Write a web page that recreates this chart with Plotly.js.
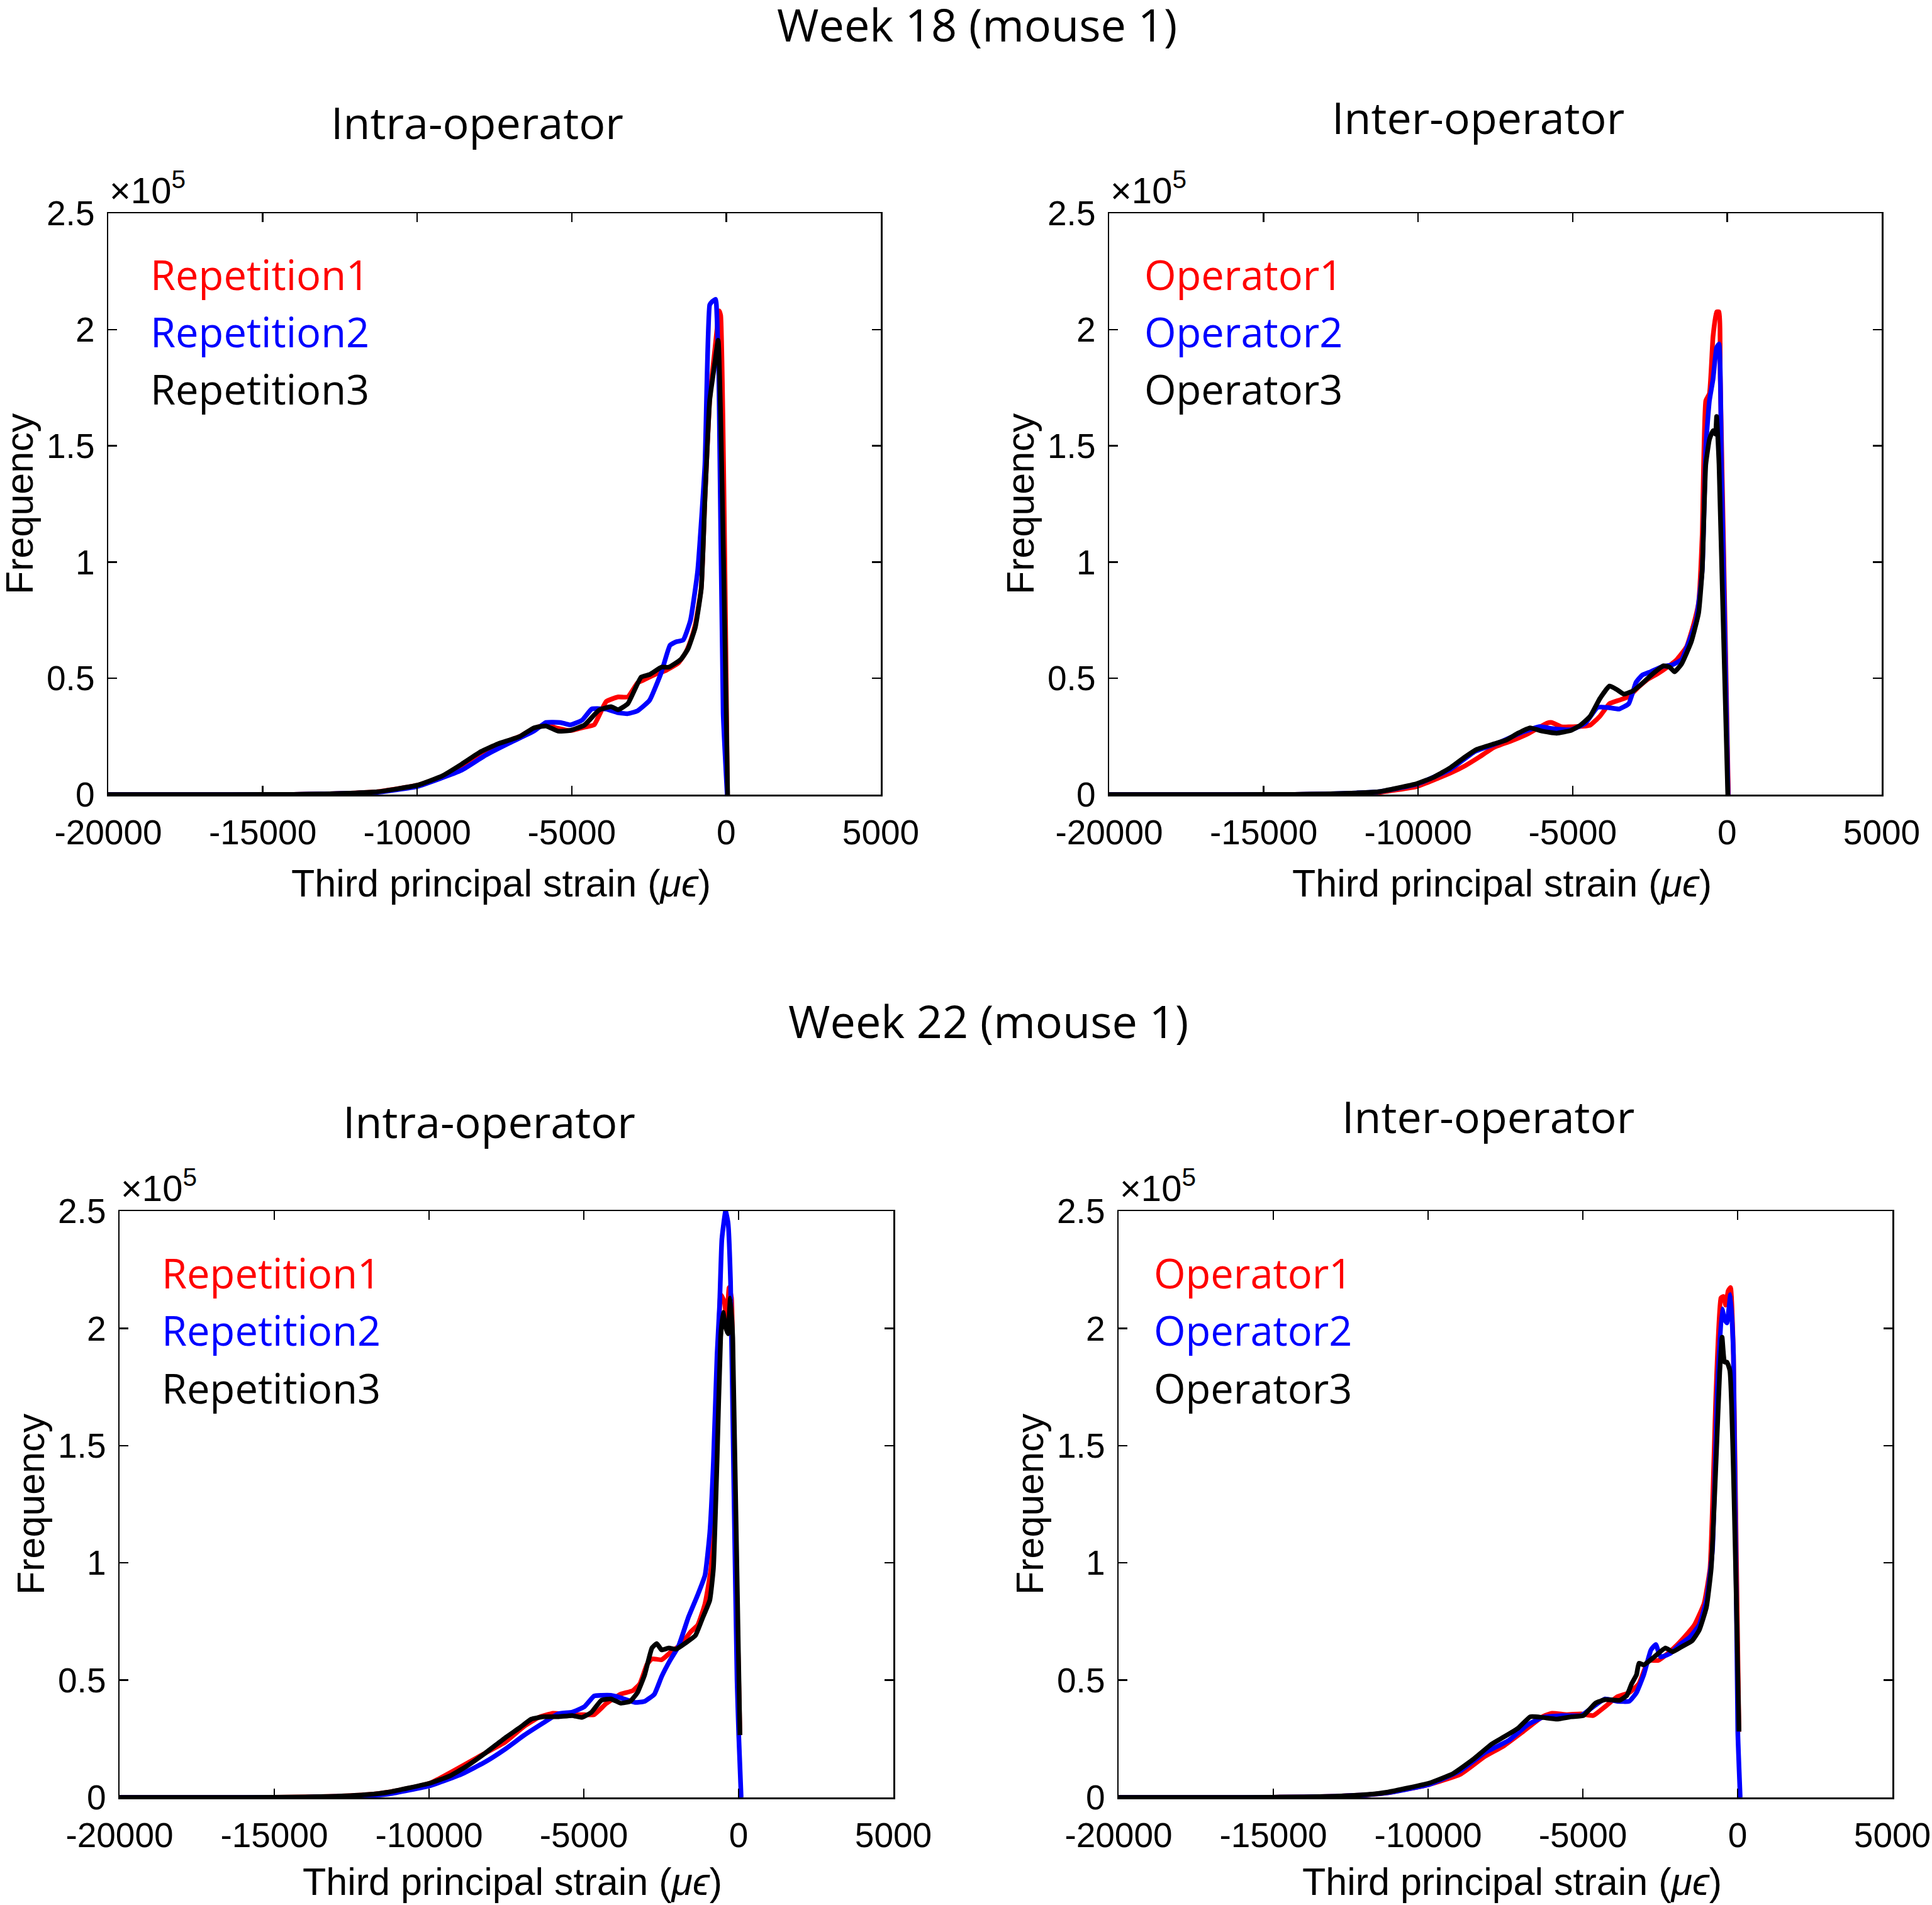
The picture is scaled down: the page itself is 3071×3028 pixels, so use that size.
<!DOCTYPE html>
<html>
<head>
<meta charset="utf-8">
<script src="https://cdn.plot.ly/plotly-3.0.1.min.js"></script>
<style>html,body{margin:0;padding:0;background:#fff;}#chart{width:3071px;height:3028px;}</style>
</head>
<body>
<div id="chart"></div>
<script>
// ---------- DATA (strain in micro-strain, frequency in units of 1e5) ----------
var xTickVals = [-20000, -15000, -10000, -5000, 0, 5000];
var xTickText = ["-20000", "-15000", "-10000", "-5000", "0", "5000"];
var yTickVals = [0, 0.5, 1, 1.5, 2, 2.5];
var yTickText = ["0", "0.5", "1", "1.5", "2", "2.5"];

var panelTitles = ["Intra-operator", "Inter-operator", "Intra-operator", "Inter-operator"];
var weekTitles = ["Week 18 (mouse 1)", "Week 22 (mouse 1)"];
var intraNames = ["Repetition1", "Repetition2", "Repetition3"];
var interNames = ["Operator1", "Operator2", "Operator3"];

// Week 18 intra-operator
var w18IntraRep1X = [-20000,-16000,-14000,-13000,-12000,-11287,-10000,-9183,-8560,-7937,-7392,-6690,-6223,-5833,-5444,-5054,-4587,-4275,-3885,-3496,-3185,-2873,-2717,-2249,-1938,-1549,-1315,-1159,-1003,-808,-691,-536,-380,-224,-180,40];
var w18IntraRep1Y = [0,0,0.001,0.003,0.007,0.012,0.04,0.078,0.125,0.18,0.215,0.25,0.285,0.30,0.285,0.275,0.29,0.30,0.40,0.42,0.42,0.48,0.49,0.52,0.535,0.566,0.61,0.66,0.73,0.89,1.27,1.70,1.90,2.08,2.06,0];
var w18IntraRep2X = [-20000,-16000,-14000,-13000,-12000,-11287,-10000,-8560,-7781,-7002,-6223,-5833,-5366,-5054,-4665,-4353,-3885,-3496,-3185,-2873,-2483,-2094,-1821,-1627,-1393,-1159,-925,-691,-536,-458,-341,-300,-240,-100,30];
var w18IntraRep2Y = [0,0,0.001,0.003,0.006,0.01,0.035,0.105,0.17,0.223,0.273,0.31,0.31,0.30,0.32,0.368,0.368,0.352,0.348,0.36,0.405,0.528,0.642,0.657,0.665,0.749,0.963,1.42,2.106,2.12,2.13,2.05,1.8,0.35,0];
var w18IntraRep3X = [-20000,-16000,-14000,-13000,-12000,-11287,-10000,-9183,-8560,-7937,-7392,-6690,-6223,-5833,-5444,-5054,-4587,-4120,-3730,-3496,-3185,-2756,-2483,-2094,-1860,-1471,-1237,-1003,-808,-691,-536,-380,-263,45];
var w18IntraRep3Y = [0,0,0.001,0.003,0.007,0.012,0.04,0.081,0.131,0.185,0.218,0.249,0.287,0.295,0.273,0.276,0.299,0.363,0.378,0.365,0.391,0.505,0.516,0.548,0.548,0.581,0.627,0.718,0.886,1.267,1.694,1.847,1.954,0];

// Week 18 inter-operator
var w18InterOp1X = [-20000,-16000,-14000,-13000,-12000,-11287,-10040,-8950,-8482,-8015,-7547,-7002,-6457,-5833,-5677,-5366,-4898,-4431,-4119,-3808,-3496,-3185,-2873,-2561,-2249,-1938,-1627,-1315,-1081,-925,-808,-691,-574,-458,-341,-263,-224,40];
var w18InterOp1Y = [0,0,0.001,0.002,0.005,0.009,0.035,0.093,0.124,0.162,0.203,0.23,0.261,0.307,0.31,0.292,0.292,0.299,0.337,0.391,0.406,0.421,0.462,0.497,0.52,0.548,0.581,0.635,0.734,0.825,1.115,1.694,1.725,1.969,2.076,2.076,1.80,0];
var w18InterOp2X = [-20000,-16000,-14000,-13000,-12000,-11287,-10040,-8950,-8171,-7392,-6612,-6067,-5677,-5054,-4587,-4197,-3885,-3496,-3185,-2951,-2756,-2483,-2094,-1782,-1471,-1237,-1003,-808,-691,-574,-458,-341,-263,-185,30];
var w18InterOp2Y = [0,0,0.001,0.003,0.007,0.012,0.045,0.109,0.185,0.223,0.269,0.292,0.284,0.279,0.307,0.375,0.375,0.368,0.391,0.482,0.513,0.528,0.551,0.558,0.581,0.658,0.749,0.963,1.496,1.694,1.786,1.923,1.938,1.42,0];
var w18InterOp3X = [-20000,-16000,-14000,-13000,-12000,-11287,-10040,-9495,-8950,-8482,-8093,-7547,-7158,-6768,-6379,-5989,-5522,-5054,-4743,-4431,-4119,-3808,-3574,-3340,-3029,-2717,-2405,-2055,-1860,-1704,-1471,-1159,-925,-808,-691,-574,-458,-380,-341,-263,20];
var w18InterOp3Y = [0,0,0.001,0.003,0.007,0.012,0.047,0.075,0.116,0.162,0.195,0.218,0.234,0.264,0.287,0.273,0.264,0.276,0.299,0.337,0.413,0.467,0.452,0.432,0.447,0.482,0.52,0.554,0.548,0.528,0.563,0.658,0.78,0.963,1.42,1.527,1.565,1.55,1.626,1.42,0];

// Week 22 intra-operator
var w22IntraRep1X = [-20000,-16000,-14000,-13000,-12000,-11290,-9966,-8174,-7551,-6928,-6460,-5993,-5525,-5058,-4669,-4279,-3812,-3422,-3188,-2955,-2799,-2487,-2176,-1864,-1553,-1319,-1085,-890,-696,-579,-462,-384,-306,-228,-150,44];
var w22IntraRep1Y = [0,0,0.002,0.005,0.012,0.023,0.061,0.19,0.235,0.303,0.341,0.359,0.353,0.353,0.353,0.40,0.44,0.455,0.485,0.568,0.591,0.587,0.621,0.652,0.705,0.735,0.826,0.978,1.584,2.144,2.114,2.038,2.174,2.129,1.432,0.266];
var w22IntraRep2X = [-20000,-16000,-14000,-13000,-12000,-11290,-9966,-8953,-8174,-7551,-6928,-6304,-5837,-5370,-4980,-4669,-4435,-4123,-3812,-3344,-3033,-2721,-2487,-2215,-1942,-1630,-1319,-1085,-930,-813,-696,-613,-540,-420,-340,-260,-150,-50,5,83];
var w22IntraRep2Y = [0,0,0.001,0.004,0.008,0.015,0.05,0.099,0.152,0.205,0.265,0.318,0.356,0.364,0.387,0.432,0.435,0.435,0.425,0.405,0.41,0.44,0.515,0.584,0.644,0.765,0.864,0.947,1.129,1.432,1.886,2.1,2.38,2.5,2.45,2.2,1.3,0.5,0.266,0];
var w22IntraRep3X = [-20000,-16000,-14000,-13000,-12000,-11290,-9966,-9343,-8797,-8174,-7551,-7084,-6694,-6304,-5837,-5370,-5058,-4746,-4435,-4123,-3812,-3500,-3266,-3033,-2799,-2643,-2487,-2254,-2020,-1708,-1397,-1163,-930,-812,-696,-579,-501,-423,-345,-267,-189,44];
var w22IntraRep3Y = [0,0,0.002,0.005,0.012,0.023,0.061,0.091,0.132,0.19,0.253,0.296,0.334,0.344,0.344,0.349,0.341,0.364,0.414,0.42,0.402,0.41,0.447,0.523,0.637,0.656,0.629,0.637,0.632,0.659,0.69,0.765,0.841,0.978,1.432,1.962,2.068,2.008,1.977,2.129,1.962,0.266];

// Week 22 inter-operator
var w22InterOp1X = [-20000,-16000,-14000,-13000,-12000,-11290,-9966,-8953,-8174,-7551,-6928,-6304,-5993,-5525,-5058,-4669,-4279,-3890,-3500,-3188,-2877,-2565,-2254,-1942,-1630,-1397,-1085,-890,-696,-540,-462,-384,-306,-228,-134,44];
var w22InterOp1Y = [0,0,0.002,0.005,0.011,0.02,0.055,0.099,0.174,0.22,0.281,0.344,0.359,0.353,0.356,0.349,0.387,0.429,0.447,0.485,0.584,0.584,0.614,0.652,0.697,0.735,0.826,0.978,1.735,2.129,2.136,2.099,2.159,2.174,1.886,0.28];
var w22InterOp2X = [-20000,-16000,-14000,-13000,-12000,-11290,-9966,-8953,-8174,-7395,-6772,-6304,-5681,-5058,-4591,-4279,-3890,-3500,-3266,-3033,-2799,-2643,-2487,-2176,-1864,-1553,-1241,-1007,-813,-657,-501,-423,-345,-228,-134,6,84];
var w22InterOp2Y = [0,0,0.002,0.005,0.011,0.02,0.055,0.114,0.19,0.243,0.311,0.341,0.349,0.349,0.394,0.42,0.41,0.41,0.447,0.523,0.629,0.652,0.599,0.614,0.652,0.682,0.735,0.841,1.053,1.735,2.083,2.038,2.023,2.144,1.886,0.28,0];
var w22InterOp3X = [-20000,-16000,-14000,-13000,-12000,-11290,-9966,-9187,-8564,-7940,-7551,-7084,-6694,-6304,-5837,-5370,-4980,-4591,-4279,-3812,-3578,-3422,-3266,-3188,-3033,-2721,-2332,-2098,-1786,-1475,-1241,-1007,-852,-696,-579,-501,-423,-345,-250,44];
var w22InterOp3Y = [0,0,0.002,0.005,0.012,0.023,0.061,0.102,0.16,0.228,0.258,0.296,0.344,0.341,0.334,0.344,0.349,0.402,0.417,0.414,0.435,0.485,0.523,0.572,0.565,0.596,0.637,0.621,0.644,0.667,0.713,0.811,0.978,1.432,1.811,1.962,1.856,1.856,1.82,0.281];

var seriesColors = ["#ff0000", "#0000ff", "#000000"];

// ---------- BUILD ----------
var panels = [
  {xa: "x",  ya: "y",  names: intraNames, xs: [w18IntraRep1X, w18IntraRep2X, w18IntraRep3X], ys: [w18IntraRep1Y, w18IntraRep2Y, w18IntraRep3Y]},
  {xa: "x2", ya: "y2", names: interNames, xs: [w18InterOp1X, w18InterOp2X, w18InterOp3X], ys: [w18InterOp1Y, w18InterOp2Y, w18InterOp3Y]},
  {xa: "x3", ya: "y3", names: intraNames, xs: [w22IntraRep1X, w22IntraRep2X, w22IntraRep3X], ys: [w22IntraRep1Y, w22IntraRep2Y, w22IntraRep3Y]},
  {xa: "x4", ya: "y4", names: interNames, xs: [w22InterOp1X, w22InterOp2X, w22InterOp3X], ys: [w22InterOp1Y, w22InterOp2Y, w22InterOp3Y]}
];

var W = 3071, H = 3028;
// pixel boxes [left, right, top, bottom]
var boxes = [[172, 1400, 339, 1263], [1763, 2991, 339, 1263], [190, 1420, 1925, 2857], [1778, 3008, 1925, 2857]];

var traces = [];
panels.forEach(function (p) {
  for (var i = 0; i < 3; i++) {
    traces.push({
      type: "scatter", mode: "lines", x: p.xs[i], y: p.ys[i], name: p.names[i],
      xaxis: p.xa, yaxis: p.ya, line: {color: seriesColors[i], width: 7.5, shape: "spline", smoothing: 0.4}, hoverinfo: "skip"
    });
  }
});

var tickFont = {family: "Liberation Sans, Arial, sans-serif", size: 55, color: "#000"};
var multFont = {family: "Liberation Sans, Arial, sans-serif", size: 58, color: "#000"};
var labelFont = {family: "Liberation Sans, Arial, sans-serif", size: 61, color: "#000"};
var calFamily = "Open Sans, Noto Sans, sans-serif";

var layout = {
  width: W, height: H, margin: {l: 0, r: 0, t: 0, b: 0},
  paper_bgcolor: "#fff", plot_bgcolor: "#fff", showlegend: false,
  annotations: []
};

function axBase() {
  return {
    showgrid: false, zeroline: false, showline: true, linecolor: "#000", linewidth: 2.5,
    mirror: "ticks", ticks: "inside", ticklen: 14, tickwidth: 2.5, tickcolor: "#000",
    tickfont: tickFont, tickmode: "array", fixedrange: true
  };
}

boxes.forEach(function (b, k) {
  var n = k === 0 ? "" : String(k + 1);
  var xa = axBase();
  xa.domain = [b[0] / W, b[1] / W];
  xa.range = [-20000, 5000];
  xa.tickvals = xTickVals; xa.ticktext = xTickText;
  xa.anchor = "y" + n;
  xa.ticklabelstandoff = 10;
  var ya = axBase();
  ya.domain = [1 - b[3] / H, 1 - b[2] / H];
  ya.range = [0, 2.5];
  ya.tickvals = yTickVals; ya.ticktext = yTickText;
  ya.anchor = "x" + n;
  ya.ticklabelstandoff = 8;
  layout["xaxis" + n] = xa;
  layout["yaxis" + n] = ya;

  var xd = "x" + n + " domain", yd = "y" + n + " domain";
  // x10^5 multiplier
  layout.annotations.push({xref: xd, yref: yd, x: 0, y: 1, xanchor: "left", yanchor: "bottom", yshift: 2,
    text: "\u00d710<sup>5</sup>", showarrow: false, font: multFont});
  // legend-like labels
  var names = panels[k].names;
  var lx = (k % 2 === 0) ? 0.053 : 0.044;
  var lys = [0.895, 0.797, 0.698];
  for (var i = 0; i < 3; i++) {
    layout.annotations.push({xref: xd, yref: yd, x: lx, y: lys[i], xanchor: "left", yanchor: "middle",
      text: names[i], showarrow: false, font: {family: calFamily, size: 65, color: seriesColors[i]}});
  }
  // axis titles
  var cx = (b[0] + b[1]) / 2;
  var off = (k < 2) ? 141 : 134;
  layout.annotations.push({xref: "paper", yref: "paper", x: (cx + 10) / W, y: 1 - (b[3] + off) / H,
    xanchor: "center", yanchor: "middle", showarrow: false, font: labelFont,
    text: "Third principal strain (<i>\u03bc\u03f5</i>)"});
  layout.annotations.push({xref: "paper", yref: "paper", x: (b[0] - 141) / W, y: 1 - ((b[2] + b[3]) / 2) / H,
    xanchor: "center", yanchor: "middle", showarrow: false, font: labelFont, textangle: -90,
    text: "Frequency"});
  // panel title
  var ty = (k < 2) ? [194, 186][k] : [1782, 1774][k - 2];
  layout.annotations.push({xref: "paper", yref: "paper", x: (cx - 28) / W, y: 1 - ty / H,
    xanchor: "center", yanchor: "middle", showarrow: false,
    font: {family: calFamily, size: 70, color: "#000"}, text: panelTitles[k]});
});

// week titles
layout.annotations.push({xref: "paper", yref: "paper", x: 1553 / W, y: 1 - 38 / H, xanchor: "center", yanchor: "middle",
  showarrow: false, font: {family: calFamily, size: 72, color: "#000"}, text: weekTitles[0]});
layout.annotations.push({xref: "paper", yref: "paper", x: 1571 / W, y: 1 - 1622 / H, xanchor: "center", yanchor: "middle",
  showarrow: false, font: {family: calFamily, size: 72, color: "#000"}, text: weekTitles[1]});

Plotly.newPlot("chart", traces, layout, {staticPlot: true, displayModeBar: false});
</script>
</body>
</html>
